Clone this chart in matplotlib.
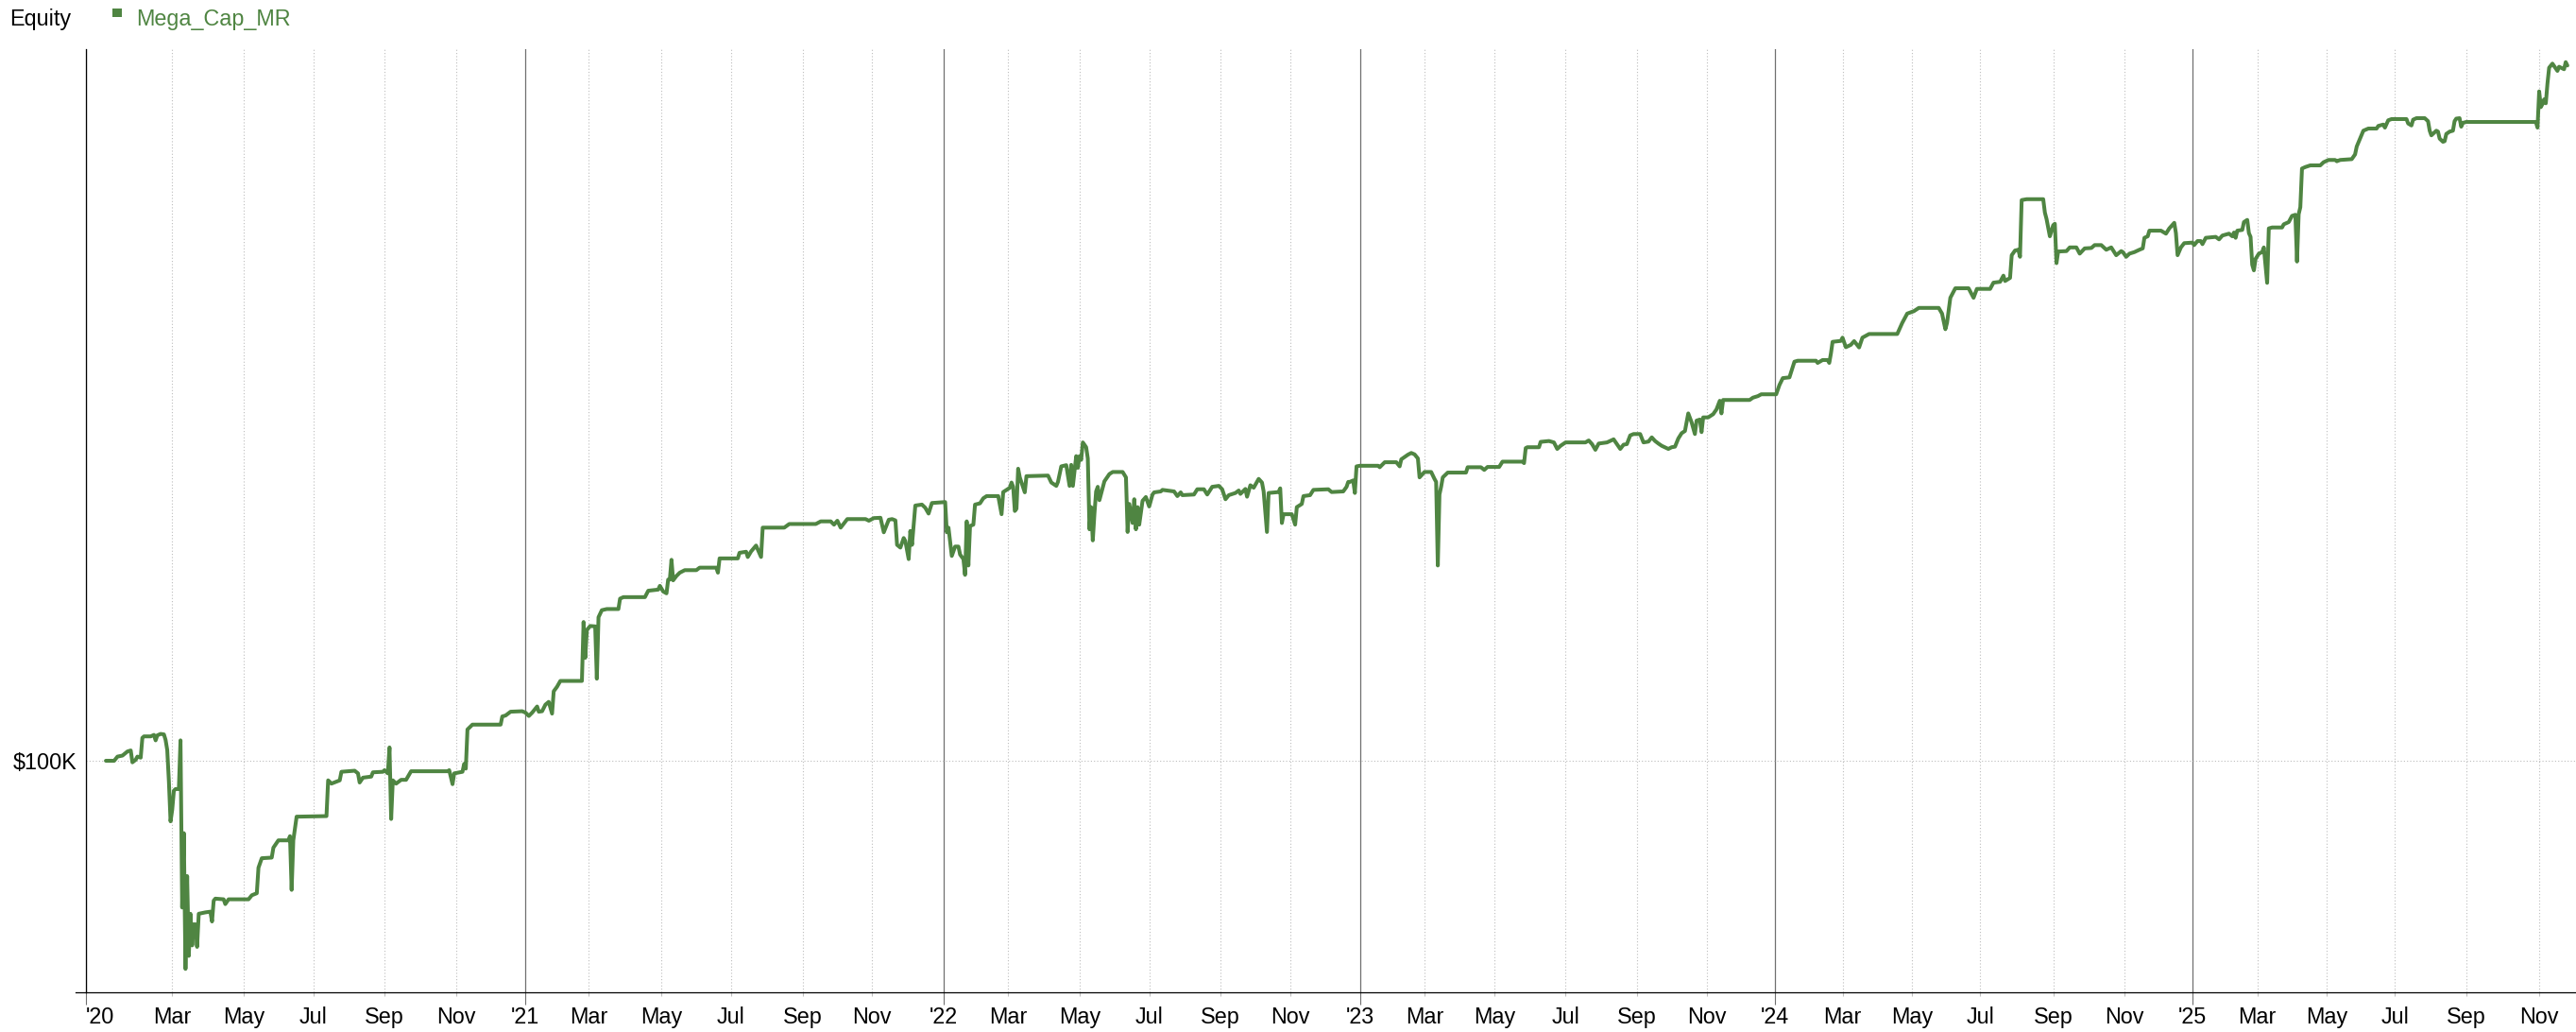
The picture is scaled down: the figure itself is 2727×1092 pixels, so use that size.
import numpy as np
import pandas as pd
import matplotlib
matplotlib.use('Agg')
import matplotlib.pyplot as plt
from matplotlib.patches import Rectangle
from matplotlib.lines import Line2D
from matplotlib.ticker import NullLocator

plt.rcParams['font.family'] = ['Liberation Sans', 'DejaVu Sans']

series_name = 'Mega_Cap_MR'
line_color = '#4f8542'

# NYSE holidays -> the x axis counts trading bars, not calendar days
holidays = ['2020-01-01', '2020-01-20', '2020-02-17', '2020-04-10', '2020-05-25', '2020-07-03',
            '2020-09-07', '2020-11-26', '2020-12-25',
            '2021-01-01', '2021-01-18', '2021-02-15', '2021-04-02', '2021-05-31', '2021-07-05',
            '2021-09-06', '2021-11-25', '2021-12-24',
            '2022-01-17', '2022-02-21', '2022-04-15', '2022-05-30', '2022-06-20', '2022-07-04',
            '2022-09-05', '2022-11-24', '2022-12-26',
            '2023-01-02', '2023-01-16', '2023-02-20', '2023-04-07', '2023-05-29', '2023-06-19',
            '2023-07-04', '2023-09-04', '2023-11-23', '2023-12-25',
            '2024-01-01', '2024-01-15', '2024-02-19', '2024-03-29', '2024-05-27', '2024-06-19',
            '2024-07-04', '2024-09-02', '2024-11-28', '2024-12-25',
            '2025-01-01', '2025-01-09', '2025-01-20', '2025-02-17', '2025-04-18', '2025-05-26',
            '2025-06-19', '2025-07-04', '2025-09-01', '2025-11-27', '2025-12-25']

# equity in $K
eq_2020 = [
    ('2020-01-02', 100.0), ('2020-01-09', 100.0), ('2020-01-13', 100.8), ('2020-01-16', 101.0),
    ('2020-01-22', 101.8), ('2020-01-24', 102.0), ('2020-01-27', 99.7), ('2020-01-29', 100.2),
    ('2020-01-30', 100.8), ('2020-02-03', 100.6), ('2020-02-04', 104.5), ('2020-02-05', 104.8),
    ('2020-02-11', 104.8), ('2020-02-13', 105.1), ('2020-02-14', 104.0), ('2020-02-18', 105.0),
    ('2020-02-20', 105.3), ('2020-02-24', 105.2), ('2020-02-25', 104.1), ('2020-02-26', 102.1),
    ('2020-02-27', 96.1), ('2020-02-28', 89.0), ('2020-03-02', 91.0), ('2020-03-03', 94.4),
    ('2020-03-04', 94.7), ('2020-03-06', 94.7), ('2020-03-09', 104.0), ('2020-03-10', 75.4),
    ('2020-03-11', 87.0), ('2020-03-12', 67.0), ('2020-03-13', 80.1), ('2020-03-16', 68.7),
    ('2020-03-17', 74.5), ('2020-03-18', 70.1), ('2020-03-19', 73.0), ('2020-03-20', 73.0),
    ('2020-03-23', 69.9), ('2020-03-24', 74.5), ('2020-03-30', 74.7), ('2020-04-02', 74.8),
    ('2020-04-03', 73.4), ('2020-04-06', 76.4), ('2020-04-07', 76.7), ('2020-04-15', 76.6),
    ('2020-04-16', 75.9), ('2020-04-20', 76.6), ('2020-05-06', 76.6), ('2020-05-08', 77.2),
    ('2020-05-13', 77.5), ('2020-05-14', 81.4), ('2020-05-18', 82.9), ('2020-05-27', 83.0),
    ('2020-05-28', 84.6), ('2020-06-02', 85.8), ('2020-06-10', 85.8), ('2020-06-11', 86.5),
    ('2020-06-12', 78.0), ('2020-06-15', 85.8), ('2020-06-16', 87.8), ('2020-06-17', 89.8),
    ('2020-07-14', 89.9), ('2020-07-15', 96.3), ('2020-07-17', 95.7), ('2020-07-24', 96.3),
    ('2020-07-27', 97.9), ('2020-08-06', 98.1), ('2020-08-10', 97.6), ('2020-08-11', 95.9),
    ('2020-08-13', 96.8), ('2020-08-20', 97.0), ('2020-08-21', 97.8), ('2020-08-31', 97.9),
    ('2020-09-01', 98.2), ('2020-09-03', 97.6), ('2020-09-04', 102.6), ('2020-09-08', 89.4),
    ('2020-09-09', 96.3), ('2020-09-11', 95.7), ('2020-09-16', 96.4), ('2020-09-21', 96.4),
    ('2020-09-24', 98.0), ('2020-10-26', 98.0), ('2020-10-27', 98.2), ('2020-10-29', 95.6),
    ('2020-10-30', 97.6), ('2020-11-06', 97.9), ('2020-11-09', 99.4), ('2020-11-10', 98.5),
    ('2020-11-11', 106.2), ('2020-11-16', 107.2), ('2020-12-10', 107.2), ('2020-12-11', 108.9),
    ('2020-12-15', 109.1), ('2020-12-18', 109.9), ('2020-12-30', 110.0),
]
eq_2021 = [
    ('2021-01-04', 109.7), ('2021-01-06', 109.0), ('2021-01-08', 109.7), ('2021-01-13', 111.0),
    ('2021-01-14', 109.9), ('2021-01-19', 110.0), ('2021-01-21', 111.4), ('2021-01-25', 112.0),
    ('2021-01-27', 109.5), ('2021-01-28', 114.3), ('2021-02-01', 115.3), ('2021-02-03', 116.6),
    ('2021-02-23', 116.6), ('2021-02-24', 130.6), ('2021-02-25', 121.9), ('2021-02-26', 128.6),
    ('2021-03-02', 129.6), ('2021-03-05', 129.5), ('2021-03-08', 117.1), ('2021-03-09', 131.8),
    ('2021-03-11', 133.6), ('2021-03-16', 133.9), ('2021-03-25', 133.9), ('2021-03-26', 136.6),
    ('2021-03-30', 137.0), ('2021-04-19', 137.0), ('2021-04-21', 138.7), ('2021-04-29', 139.0),
    ('2021-04-30', 140.0), ('2021-05-04', 138.5), ('2021-05-06', 138.0), ('2021-05-07', 141.7),
    ('2021-05-10', 141.7), ('2021-05-11', 147.2), ('2021-05-12', 141.5), ('2021-05-14', 142.7),
    ('2021-05-18', 143.6), ('2021-05-21', 144.3), ('2021-06-02', 144.3), ('2021-06-04', 145.0),
    ('2021-06-18', 145.0), ('2021-06-21', 143.6), ('2021-06-22', 147.6), ('2021-07-08', 147.6),
    ('2021-07-09', 149.2), ('2021-07-15', 149.5), ('2021-07-16', 148.0), ('2021-07-20', 149.6),
    ('2021-07-23', 151.3), ('2021-07-28', 148.0), ('2021-07-29', 156.6), ('2021-08-17', 156.6),
    ('2021-08-20', 157.7), ('2021-09-14', 157.7), ('2021-09-17', 158.5), ('2021-09-27', 158.5),
    ('2021-09-29', 157.5), ('2021-10-01', 158.7), ('2021-10-05', 156.6), ('2021-10-11', 159.2),
    ('2021-10-26', 159.2), ('2021-10-28', 158.7), ('2021-11-02', 159.5), ('2021-11-08', 159.6),
    ('2021-11-10', 155.2), ('2021-11-15', 159.0), ('2021-11-17', 159.2), ('2021-11-19', 158.8),
    ('2021-11-22', 151.5), ('2021-11-24', 150.7), ('2021-11-29', 153.5), ('2021-11-30', 152.6),
    ('2021-12-02', 147.4), ('2021-12-03', 155.6), ('2021-12-06', 151.5), ('2021-12-08', 163.4),
    ('2021-12-14', 163.7), ('2021-12-16', 162.7), ('2021-12-20', 160.9), ('2021-12-22', 164.2),
]
eq_2022 = [
    ('2022-01-04', 164.5), ('2022-01-05', 155.2), ('2022-01-06', 156.6), ('2022-01-10', 148.3),
    ('2022-01-12', 151.0), ('2022-01-14', 151.0), ('2022-01-18', 148.7), ('2022-01-20', 147.4),
    ('2022-01-21', 143.0), ('2022-01-24', 158.5), ('2022-01-25', 145.6), ('2022-01-26', 157.1),
    ('2022-01-28', 157.5), ('2022-01-31', 163.7), ('2022-02-03', 164.1), ('2022-02-07', 165.7),
    ('2022-02-09', 166.4), ('2022-02-18', 166.4), ('2022-02-23', 160.7), ('2022-02-24', 167.7),
    ('2022-03-02', 169.1), ('2022-03-03', 170.8), ('2022-03-04', 169.4), ('2022-03-07', 161.7),
    ('2022-03-08', 162.4), ('2022-03-09', 175.4), ('2022-03-10', 172.5), ('2022-03-15', 167.6),
    ('2022-03-16', 172.9), ('2022-04-04', 173.1), ('2022-04-06', 170.8), ('2022-04-11', 169.7),
    ('2022-04-12', 171.0), ('2022-04-14', 176.2), ('2022-04-20', 176.6), ('2022-04-22', 169.7),
    ('2022-04-25', 176.7), ('2022-04-26', 169.7), ('2022-04-28', 179.7), ('2022-04-29', 175.7),
    ('2022-05-02', 179.7), ('2022-05-03', 178.4), ('2022-05-04', 184.5), ('2022-05-06', 182.8),
    ('2022-05-09', 178.9), ('2022-05-10', 156.1), ('2022-05-11', 162.9), ('2022-05-12', 152.8),
    ('2022-05-13', 160.9), ('2022-05-16', 167.9), ('2022-05-17', 169.4), ('2022-05-18', 165.1),
    ('2022-05-23', 171.2), ('2022-05-26', 173.6), ('2022-05-31', 174.3), ('2022-06-08', 174.3),
    ('2022-06-10', 172.5), ('2022-06-13', 155.3), ('2022-06-14', 163.9), ('2022-06-16', 158.0),
    ('2022-06-17', 165.4), ('2022-06-21', 156.1), ('2022-06-22', 162.9), ('2022-06-23', 157.5),
    ('2022-06-27', 164.9), ('2022-06-29', 166.1), ('2022-07-01', 163.1), ('2022-07-06', 166.9),
    ('2022-07-07', 167.6), ('2022-07-13', 167.9), ('2022-07-14', 168.4), ('2022-07-25', 167.9),
    ('2022-07-27', 166.4), ('2022-07-29', 167.6), ('2022-08-01', 166.7), ('2022-08-10', 166.9),
    ('2022-08-12', 168.6), ('2022-08-18', 168.6), ('2022-08-22', 166.9), ('2022-08-25', 169.4),
    ('2022-08-31', 169.7), ('2022-09-02', 168.6), ('2022-09-07', 165.4), ('2022-09-09', 166.7),
    ('2022-09-15', 167.4), ('2022-09-19', 168.2), ('2022-09-20', 167.1), ('2022-09-23', 168.7),
    ('2022-09-26', 166.2), ('2022-09-28', 169.9), ('2022-09-30', 169.1), ('2022-10-05', 172.0),
    ('2022-10-07', 170.8), ('2022-10-10', 167.9), ('2022-10-12', 155.3), ('2022-10-13', 167.4),
    ('2022-10-21', 167.7), ('2022-10-24', 168.9), ('2022-10-25', 158.0), ('2022-10-26', 160.7),
    ('2022-11-02', 160.7), ('2022-11-04', 157.5), ('2022-11-07', 162.9), ('2022-11-10', 163.9),
    ('2022-11-11', 166.4), ('2022-11-17', 166.7), ('2022-11-21', 168.4), ('2022-12-05', 168.6),
    ('2022-12-07', 167.7), ('2022-12-16', 167.9), ('2022-12-20', 169.4), ('2022-12-21', 171.0),
    ('2022-12-22', 171.0), ('2022-12-27', 171.5), ('2022-12-28', 167.4), ('2022-12-29', 176.2),
]
eq_2023 = [
    ('2023-01-03', 176.4), ('2023-01-19', 176.4), ('2023-01-20', 175.9), ('2023-01-25', 177.6),
    ('2023-02-03', 177.6), ('2023-02-07', 176.2), ('2023-02-08', 178.6), ('2023-02-14', 180.2),
    ('2023-02-16', 180.8), ('2023-02-21', 180.3), ('2023-02-23', 178.9), ('2023-02-24', 172.5),
    ('2023-03-01', 174.3), ('2023-03-07', 174.3), ('2023-03-09', 172.0), ('2023-03-10', 171.0),
    ('2023-03-13', 145.6), ('2023-03-14', 166.9), ('2023-03-15', 169.4), ('2023-03-16', 172.5),
    ('2023-03-21', 174.1), ('2023-04-05', 174.1), ('2023-04-06', 175.9), ('2023-04-19', 175.9),
    ('2023-04-21', 175.0), ('2023-04-25', 176.0), ('2023-05-04', 176.0), ('2023-05-08', 177.8),
    ('2023-05-24', 177.8), ('2023-05-25', 177.3), ('2023-05-26', 182.5), ('2023-05-30', 182.8),
    ('2023-06-08', 182.8), ('2023-06-09', 184.7), ('2023-06-16', 185.0), ('2023-06-22', 184.5),
    ('2023-06-26', 182.2), ('2023-06-28', 183.3), ('2023-07-03', 184.5), ('2023-07-20', 184.5),
    ('2023-07-24', 185.2), ('2023-07-26', 183.9), ('2023-07-28', 181.9), ('2023-08-01', 184.1),
    ('2023-08-08', 184.5), ('2023-08-14', 185.6), ('2023-08-16', 183.9), ('2023-08-18', 182.2),
    ('2023-08-22', 183.7), ('2023-08-24', 183.9), ('2023-08-28', 187.0), ('2023-08-30', 187.5),
    ('2023-09-06', 187.5), ('2023-09-08', 184.5), ('2023-09-13', 184.8), ('2023-09-15', 186.3),
    ('2023-09-19', 185.0), ('2023-09-21', 184.1), ('2023-09-25', 183.3), ('2023-09-29', 182.2),
    ('2023-10-03', 182.8), ('2023-10-05', 183.0), ('2023-10-09', 185.9), ('2023-10-11', 187.8),
    ('2023-10-13', 188.6), ('2023-10-17', 195.1), ('2023-10-19', 191.8), ('2023-10-23', 187.5),
    ('2023-10-24', 192.4), ('2023-10-26', 192.8), ('2023-10-27', 188.2), ('2023-10-30', 193.6),
    ('2023-11-02', 193.6), ('2023-11-07', 194.8), ('2023-11-09', 196.6), ('2023-11-13', 199.9),
    ('2023-11-14', 195.1), ('2023-11-15', 200.2), ('2023-12-08', 200.2), ('2023-12-12', 201.1),
    ('2023-12-15', 201.7), ('2023-12-19', 202.4),
]
eq_2024 = [
    ('2024-01-03', 202.4), ('2024-01-05', 206.1), ('2024-01-09', 208.8), ('2024-01-16', 209.1),
    ('2024-01-19', 215.5), ('2024-01-23', 215.9), ('2024-02-07', 215.9), ('2024-02-08', 215.0),
    ('2024-02-13', 216.2), ('2024-02-16', 216.2), ('2024-02-20', 215.0), ('2024-02-21', 218.9),
    ('2024-02-22', 223.9), ('2024-02-29', 224.3), ('2024-03-01', 225.7), ('2024-03-05', 221.6),
    ('2024-03-08', 222.6), ('2024-03-12', 224.2), ('2024-03-15', 221.5), ('2024-03-19', 225.7),
    ('2024-03-25', 227.3), ('2024-04-18', 227.3), ('2024-04-23', 232.2), ('2024-04-26', 236.4),
    ('2024-05-02', 237.5), ('2024-05-07', 239.0), ('2024-05-23', 239.0), ('2024-05-28', 236.4),
    ('2024-05-30', 229.4), ('2024-05-31', 232.2), ('2024-06-04', 243.7), ('2024-06-07', 248.2),
    ('2024-06-20', 248.2), ('2024-06-25', 243.7), ('2024-06-27', 247.9), ('2024-07-10', 247.9),
    ('2024-07-12', 250.9), ('2024-07-18', 251.3), ('2024-07-22', 254.3), ('2024-07-23', 251.7),
    ('2024-07-26', 253.2), ('2024-07-29', 264.5), ('2024-07-31', 266.9), ('2024-08-02', 267.3),
    ('2024-08-05', 263.7), ('2024-08-06', 294.1), ('2024-08-09', 294.6), ('2024-08-23', 294.6),
    ('2024-08-26', 287.1), ('2024-08-27', 283.6), ('2024-08-29', 274.3), ('2024-09-03', 280.2),
    ('2024-09-04', 281.0), ('2024-09-05', 260.5), ('2024-09-06', 266.4), ('2024-09-13', 266.6),
    ('2024-09-17', 268.5), ('2024-09-23', 268.5), ('2024-09-25', 265.3), ('2024-09-30', 268.0),
    ('2024-10-04', 268.2), ('2024-10-08', 269.7), ('2024-10-14', 269.7), ('2024-10-17', 267.3),
    ('2024-10-22', 268.5), ('2024-10-25', 264.5), ('2024-10-30', 266.6), ('2024-10-31', 266.1),
    ('2024-11-04', 263.7), ('2024-11-06', 265.3), ('2024-11-11', 266.1), ('2024-11-14', 267.3),
    ('2024-11-18', 268.0), ('2024-11-19', 273.5), ('2024-11-21', 274.3), ('2024-11-22', 277.3),
    ('2024-12-04', 277.3), ('2024-12-09', 275.7), ('2024-12-11', 278.5), ('2024-12-16', 281.5),
    ('2024-12-17', 276.0), ('2024-12-18', 264.5), ('2024-12-20', 268.5), ('2024-12-24', 270.7),
]
eq_2025 = [
    ('2025-01-02', 271.0), ('2025-01-03', 269.7), ('2025-01-07', 271.8), ('2025-01-10', 271.8),
    ('2025-01-13', 270.2), ('2025-01-15', 273.5), ('2025-01-24', 274.0), ('2025-01-28', 272.7),
    ('2025-01-30', 274.7), ('2025-02-05', 275.7), ('2025-02-07', 274.3), ('2025-02-10', 276.3),
    ('2025-02-11', 273.5), ('2025-02-12', 277.3), ('2025-02-18', 277.7), ('2025-02-19', 281.9),
    ('2025-02-21', 283.1), ('2025-02-24', 276.0), ('2025-02-25', 274.0), ('2025-02-26', 259.7),
    ('2025-02-27', 256.9), ('2025-02-28', 262.6), ('2025-03-04', 265.3), ('2025-03-06', 266.1),
    ('2025-03-07', 268.5), ('2025-03-10', 259.7), ('2025-03-11', 250.8), ('2025-03-12', 278.5),
    ('2025-03-14', 279.0), ('2025-03-24', 279.0), ('2025-03-25', 280.7), ('2025-03-28', 281.9),
    ('2025-04-01', 285.3), ('2025-04-03', 285.9), ('2025-04-04', 261.3), ('2025-04-07', 286.2),
    ('2025-04-08', 290.1), ('2025-04-09', 312.5), ('2025-04-11', 313.4), ('2025-04-16', 314.4),
    ('2025-04-25', 314.4), ('2025-04-29', 316.3), ('2025-05-02', 317.7), ('2025-05-08', 317.7),
    ('2025-05-09', 316.9), ('2025-05-13', 317.7), ('2025-05-22', 318.2), ('2025-05-27', 321.1),
    ('2025-05-28', 326.0), ('2025-05-30', 331.0), ('2025-06-03', 336.1), ('2025-06-06', 337.5),
    ('2025-06-13', 337.5), ('2025-06-16', 339.2), ('2025-06-20', 340.1), ('2025-06-23', 338.1),
    ('2025-06-25', 342.9), ('2025-06-27', 343.7), ('2025-07-11', 343.7), ('2025-07-14', 340.8),
    ('2025-07-16', 339.5), ('2025-07-17', 343.3), ('2025-07-21', 344.3), ('2025-07-28', 344.3),
    ('2025-07-30', 342.3), ('2025-07-31', 336.1), ('2025-08-01', 333.1), ('2025-08-06', 336.1),
    ('2025-08-07', 335.5), ('2025-08-08', 331.0), ('2025-08-12', 329.0), ('2025-08-13', 329.4),
    ('2025-08-14', 334.0), ('2025-08-18', 335.5), ('2025-08-20', 336.1), ('2025-08-21', 342.3),
    ('2025-08-22', 344.0), ('2025-08-26', 344.3), ('2025-08-27', 338.7), ('2025-08-28', 341.2),
    ('2025-09-02', 341.8), ('2025-10-30', 341.8), ('2025-10-31', 338.1), ('2025-11-03', 362.5),
    ('2025-11-04', 351.7), ('2025-11-05', 353.8), ('2025-11-06', 357.0), ('2025-11-07', 354.3),
    ('2025-11-10', 368.1), ('2025-11-11', 379.4), ('2025-11-13', 382.4), ('2025-11-18', 377.1),
    ('2025-11-19', 380.1), ('2025-11-24', 378.3), ('2025-11-25', 383.5), ('2025-11-26', 381.0),
]

pts = eq_2020 + eq_2021 + eq_2022 + eq_2023 + eq_2024 + eq_2025
dates = pd.to_datetime([d for d, _ in pts])
equity = np.array([v for _, v in pts]) * 1000.0

# trading-day calendar, bar 0 = first session of 2020
days = pd.bdate_range('2020-01-02', '2025-12-31')
days = days[~days.isin(pd.to_datetime(holidays))]
x = days.searchsorted(dates)

W, H = 2727, 1092
fs = 16.8
fig = plt.figure(figsize=(W / 100, H / 100), dpi=100)
ax = fig.add_axes([91 / W, (H - 1050) / H, (W - 91) / W, (1050 - 52) / H])

ax.plot(x, equity, color=line_color, lw=2.9, solid_joinstyle='round',
        solid_capstyle='round', zorder=3)

ax.set_yscale('log')
ax.set_ylim(64050, 393200)
ax.set_xlim(-12, 1489.2)

# ticks: year starts (major) and every other month (minor)
in_range = days[days <= dates[-1]]
first_bar = pd.Series(np.arange(len(in_range)), index=in_range).groupby(
    [in_range.year, in_range.month]).first()
year_pos, year_lab = [-12], ["'20"]
mon_pos, mon_lab = [], []
for (yy, mm), pos in first_bar.items():
    if mm == 1 and yy > 2020:
        year_pos.append(pos)
        year_lab.append("'%02d" % (yy % 100))
    elif mm in (3, 5, 7, 9, 11):
        mon_pos.append(pos)
        mon_lab.append(pd.Timestamp(yy, mm, 1).strftime('%b'))

ax.set_xticks(year_pos, labels=year_lab)
ax.set_xticks(mon_pos, labels=mon_lab, minor=True)
ax.tick_params(axis='x', which='major', length=9.4, width=0.8, color='#707070',
               pad=1.6, labelsize=fs)
ax.tick_params(axis='x', which='minor', length=2.9, width=0.8, color='#c0c0c0',
               pad=8.1, labelsize=fs)
ax.xaxis.get_major_ticks()[0].tick1line.set_color('black')
ax.get_xticklabels()[0].set_horizontalalignment('left')

ax.set_yticks([100000], labels=['$100K'])
ax.yaxis.set_minor_locator(NullLocator())
ax.tick_params(axis='y', length=0, pad=7, labelsize=fs)

ax.grid(axis='x', which='major', color='#707070', lw=0.9, ls='-')
ax.grid(axis='x', which='minor', color='#bdbdbd', lw=0.8, ls=(0, (1, 2)))
ax.grid(axis='y', which='major', color='#bdbdbd', lw=0.8, ls=(0, (1, 2)))
ax.set_axisbelow(True)

for s in ('top', 'right'):
    ax.spines[s].set_visible(False)
ax.spines['left'].set_color('black')
ax.spines['left'].set_linewidth(0.9)
ax.spines['bottom'].set_color('black')
ax.spines['bottom'].set_linewidth(0.9)
fig.add_artist(Line2D([80 / W, 91 / W], [(H - 1050) / H] * 2, color='black', lw=0.9))

# header / legend
fig.text(10 / W, 1 - 27 / H, 'Equity', fontsize=fs, ha='left', va='baseline', color='black')
fig.add_artist(Rectangle((119 / W, 1 - 18 / H), 10 / W, 9 / H, transform=fig.transFigure,
                         color=line_color, lw=0))
fig.text(144 / W, 1 - 27 / H, series_name, fontsize=fs, ha='left', va='baseline', color=line_color)

fig.savefig('out.png', dpi=100, facecolor='white')
